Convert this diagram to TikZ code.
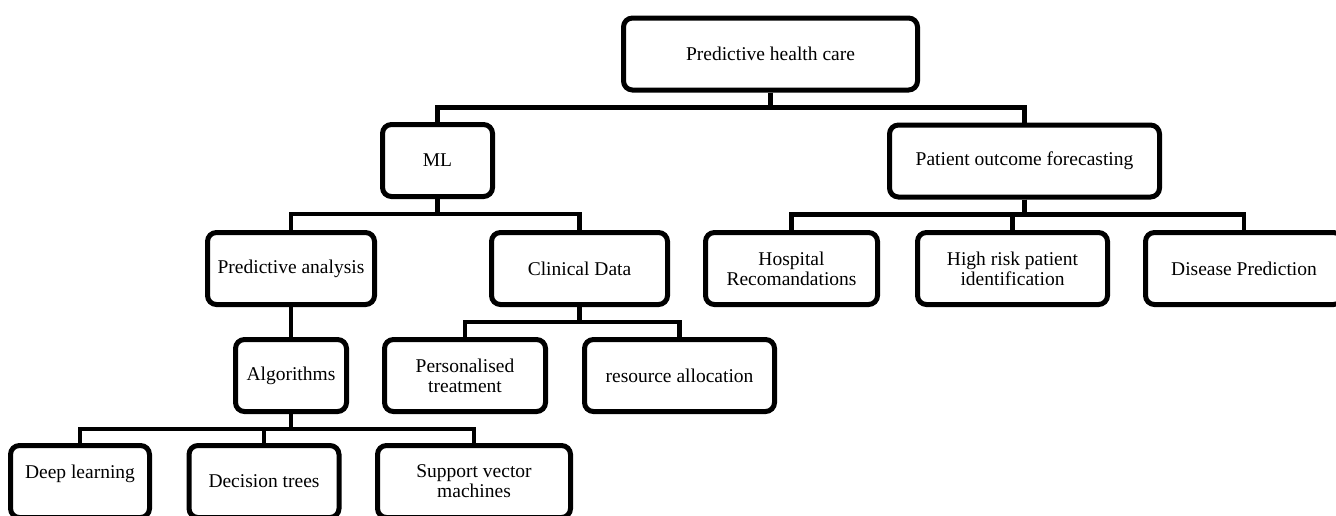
\documentclass[tikz,border=0pt]{standalone}
\usepackage{fontspec}
\setmainfont{Liberation Serif}

\begin{document}
\begin{tikzpicture}
[x=1pt,y=-1pt,%
  boxDecorate/.style={shape=rectangle,rounded corners=9pt,draw,line width=5pt,%
    minimum height=72pt,inner sep=2pt,align=center,font=\fontsize{19.5}{20}\selectfont},%
  lineDecorate/.style={-,line width=4.5pt,to path={-- ++(0,15) -| (\tikztotarget)}}]
\clip (0,0) rectangle (1336,515);
%% boxes of the tree
\foreach \nodename/\x/\y/\w/\txt in {%
  root/770.5/54/294/{Predictive health care},
  ml/437.5/160.5/110/{ML},
  pof/1024.5/161/270/{Patient outcome forecasting},
  pa/291/268.5/167/{Predictive analysis},
  cd/579.5/268.5/176/{Clinical Data},
  hosp/791.5/268.5/172/{Hospital\\Recomandations},
  risk/1012.5/268.5/190/{High risk patient\\identification},
  dis/1244/268.5/197/{Disease Prediction},
  alg/291/375.5/111/{Algorithms},
  pers/465/375.5/161/{Personalised\\treatment},
  res/679.5/375.5/190/{resource allocation},
  deep/80/481.5/139/{Deep learning\\\mbox{}},
  dec/264/481.5/150/{Decision trees},
  svm/474/481.5/193/{Support vector\\machines}}
{
  \node (\nodename) at (\x,\y) [boxDecorate,minimum width=\w pt] {\txt};
}
%% elbow connectors
\path
\foreach \startnode/\endnode in {root/ml, root/pof, ml/pa, ml/cd, pof/hosp, pof/risk,
  pof/dis, pa/alg, cd/pers, cd/res, alg/deep, alg/dec, alg/svm}
{
  (\startnode.south) edge[lineDecorate] (\endnode.north)
};
\end{tikzpicture}
\end{document}
